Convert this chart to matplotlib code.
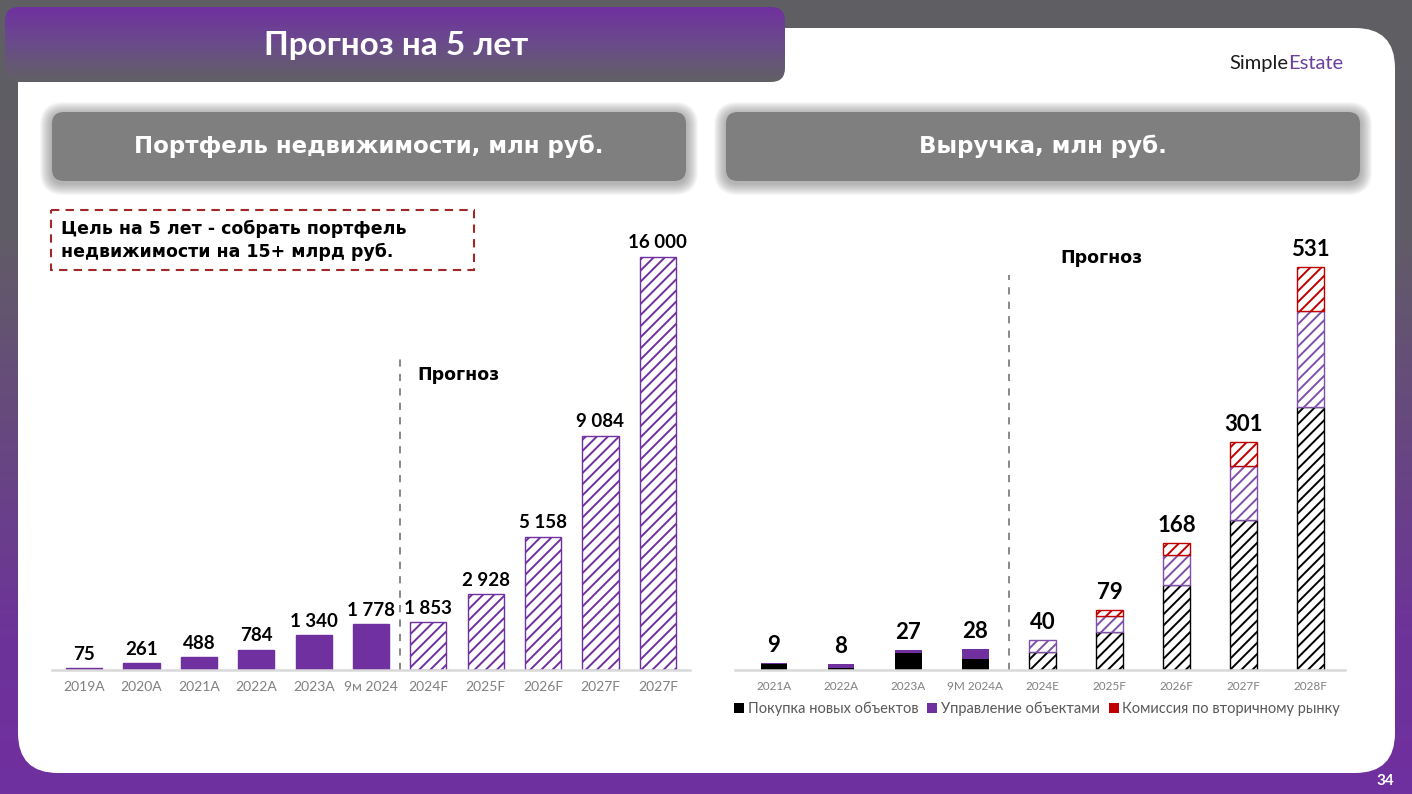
import numpy as np
import matplotlib.pyplot as plt
from matplotlib.patches import FancyBboxPatch, Rectangle, Patch
from matplotlib.colors import LinearSegmentedColormap

plt.rcParams['font.family'] = ['Lato', 'DejaVu Sans']
plt.rcParams['hatch.linewidth'] = 1.4

W, H = 1412, 794
PURPLE = '#7030a0'
RED = '#c00000'
TICK_GRAY = '#808080'
WIDE = ['DejaVu Sans']

# ---------------- data ----------------
port_years = ['2019A', '2020A', '2021A', '2022A', '2023A', '9м 2024',
              '2024F', '2025F', '2026F', '2027F', '2027F']
port_values = [75, 261, 488, 784, 1340, 1778, 1853, 2928, 5158, 9084, 16000]
port_n_actual = 6

rev_years = ['2021A', '2022A', '2023A', '9M 2024A', '2024E',
             '2025F', '2026F', '2027F', '2028F']
rev_totals = [9, 8, 27, 28, 40, 79, 168, 301, 531]
rev_buy = [8, 3, 22, 15, 24, 50, 112, 198, 347]
rev_mgmt = [1, 5, 5, 13, 16, 21, 40, 71, 126]
rev_comm = [0, 0, 0, 0, 0, 8, 16, 32, 58]
rev_n_actual = 4
rev_labels = ['Покупка новых объектов', 'Управление объектами',
              'Комиссия по вторичному рынку']


def fmt(v):
    return f"{v:,}".replace(',', ' ')


def px_axes(x0, y0, x1, y1):
    return fig.add_axes([x0 / W, 1 - y1 / H, (x1 - x0) / W, (y1 - y0) / H])


fig = plt.figure(figsize=(W / 100, H / 100), dpi=100)

# ---------------- background / slide ----------------
bg = fig.add_axes([0, 0, 1, 1])
grad = np.linspace(0, 1, 256).reshape(-1, 1)
cmap_bg = LinearSegmentedColormap.from_list(
    'bg', [(0, '#5f5f63'), (0.3, '#615c67'), (0.8, '#6d3399'), (1, '#7030a0')])
bg.imshow(grad, extent=[0, W, H, 0], cmap=cmap_bg, aspect='auto', zorder=0)

card = FancyBboxPatch((18, 28), 1377, 745, boxstyle='round,pad=0,rounding_size=40',
                      fc='white', ec='none', zorder=1)
bg.add_patch(card)

# title banner with gradient
banner = FancyBboxPatch((5, 7), 780, 75, boxstyle='round,pad=0,rounding_size=14',
                        fc='none', ec='none', zorder=3)
bg.add_patch(banner)
cmap_ban = LinearSegmentedColormap.from_list('ban', ['#7030a0', '#6a4c8a', '#616064'])
im = bg.imshow(grad, extent=[5, 785, 82, 7], cmap=cmap_ban, aspect='auto', zorder=3)
im.set_clip_path(banner)
bg.text(396, 45, 'Прогноз на 5 лет', color='white', fontsize=24, fontweight='bold',
        ha='center', va='center', zorder=4)

# logo
t1 = bg.text(1229, 72, 'Simple', color='#1a1a1a', fontsize=14.5, ha='left', va='bottom',
             zorder=4)
bg.annotate('Estate', xy=(1, 0), xycoords=t1, color='#6a3f9f', fontsize=14.5,
            ha='left', va='bottom', zorder=4)

# page number
bg.text(1385, 781, '34', color='white', fontsize=11, fontweight='bold',
        ha='center', va='center', zorder=4)


def section_box(x0, x1, text):
    y0, h = 112, 69
    for k in range(12, 0, -1):
        bg.add_patch(FancyBboxPatch((x0 - k, y0 - k + 2), x1 - x0 + 2 * k, h + 2 * k,
                                    boxstyle=f'round,pad=0,rounding_size={12 + k}',
                                    fc='#777777', ec='none', alpha=0.06, zorder=2))
    bg.add_patch(FancyBboxPatch((x0, y0), x1 - x0, h, boxstyle='round,pad=0,rounding_size=12',
                                fc='#7f7f7f', ec='none', zorder=3))
    bg.text((x0 + x1) / 2, y0 + h / 2, text, color='white', fontsize=16.5, family=WIDE,
            fontweight='bold', ha='center', va='center', zorder=4)


section_box(52, 686, 'Портфель недвижимости, млн руб.')
section_box(726, 1360, 'Выручка, млн руб.')

# goal box
bg.add_patch(Rectangle((51, 210), 423, 60, fill=False, ec='#a0282a', lw=1.5,
                       ls=(0, (4, 3)), zorder=4))
bg.text(61, 229, 'Цель на 5 лет - собрать портфель', fontsize=12.5, fontweight='bold',
        family=WIDE, va='center', zorder=5)
bg.text(61, 252, 'недвижимости на 15+ млрд руб.', fontsize=12.5, fontweight='bold',
        family=WIDE, va='center', zorder=5)

bg.text(417, 375, 'Прогноз', fontsize=12.5, fontweight='bold', family=WIDE,
        va='center', zorder=5)
bg.text(1060, 258, 'Прогноз', fontsize=12.5, fontweight='bold', family=WIDE,
        va='center', zorder=5)

bg.set_xlim(0, W)
bg.set_ylim(H, 0)
bg.axis('off')


def style_axis(ax, labelsize):
    ax.patch.set_visible(False)
    for s in ['top', 'right', 'left']:
        ax.spines[s].set_visible(False)
    ax.spines['bottom'].set_color('#d9d9d9')
    ax.spines['bottom'].set_linewidth(1.8)
    ax.set_yticks([])
    ax.tick_params(axis='x', length=0, labelsize=labelsize, labelcolor=TICK_GRAY, pad=8)


# ---------------- left chart: portfolio ----------------
axL = px_axes(52, 200, 690, 670)
xl = np.arange(len(port_years))
axL.bar(xl[:port_n_actual], port_values[:port_n_actual], width=0.63,
        color=PURPLE, edgecolor=PURPLE, zorder=2)
axL.bar(xl[port_n_actual:], port_values[port_n_actual:], width=0.63,
        color='white', edgecolor=PURPLE, hatch='///', lw=1, zorder=2)
for i, v in enumerate(port_values):
    axL.annotate(fmt(v), (xl[i], v), xytext=(0, 4), textcoords='offset points',
                 ha='center', va='bottom', fontsize=13.5, fontweight='bold')
axL.plot([5.5, 5.5], [0, 12280], ls=(0, (4, 4)), color='#7f7f7f', lw=1.3)
axL.set_xticks(xl, port_years)
axL.set_xlim(-0.56, 10.56)
axL.set_ylim(0, 18208)
style_axis(axL, 10)

# ---------------- right chart: revenue ----------------
axR = px_axes(735, 200, 1345, 670)
xr = np.arange(len(rev_years))
na = rev_n_actual
buy = np.array(rev_buy)
mgmt = np.array(rev_mgmt)
comm = np.array(rev_comm)
bw = 0.4
# actual (solid)
axR.bar(xr[:na], buy[:na], width=bw, color='black', zorder=2)
axR.bar(xr[:na], mgmt[:na], bottom=buy[:na], width=bw, color=PURPLE, zorder=2)
# forecast (hatched)
axR.bar(xr[na:], buy[na:], width=bw, color='white', edgecolor='black',
        hatch='///', lw=1, zorder=2)
axR.bar(xr[na:], mgmt[na:], bottom=buy[na:], width=bw, color='white',
        edgecolor='#7f50aa', hatch='///', lw=1, zorder=2)
mask = comm[na:] > 0
axR.bar(xr[na:][mask], comm[na:][mask], bottom=(buy + mgmt)[na:][mask], width=bw,
        color='white', edgecolor=RED, hatch='///', lw=1, zorder=2)
for i, v in enumerate(rev_totals):
    top = max(v, buy[i] + mgmt[i] + comm[i])
    axR.annotate(fmt(v), (xr[i], top), xytext=(0, 5), textcoords='offset points',
                 ha='center', va='bottom', fontsize=16, fontweight='bold')
axR.plot([3.5, 3.5], [0, 520], ls=(0, (4, 4)), color='#7f7f7f', lw=1.3)
axR.set_xticks(xr, rev_years)
axR.set_xlim(-0.58, 8.51)
axR.set_ylim(0, 619.3)
style_axis(axR, 8.5)

fig.legend(handles=[Patch(fc='black'), Patch(fc=PURPLE), Patch(fc=RED)],
           labels=rev_labels, loc='center', bbox_to_anchor=(1037 / W, 1 - 709 / H),
           ncol=3, frameon=False, fontsize=10.5, handlelength=0.7, handleheight=0.7,
           handletextpad=0.25, columnspacing=0.6, labelcolor='#595959')

fig.savefig('out.png', dpi=100)
